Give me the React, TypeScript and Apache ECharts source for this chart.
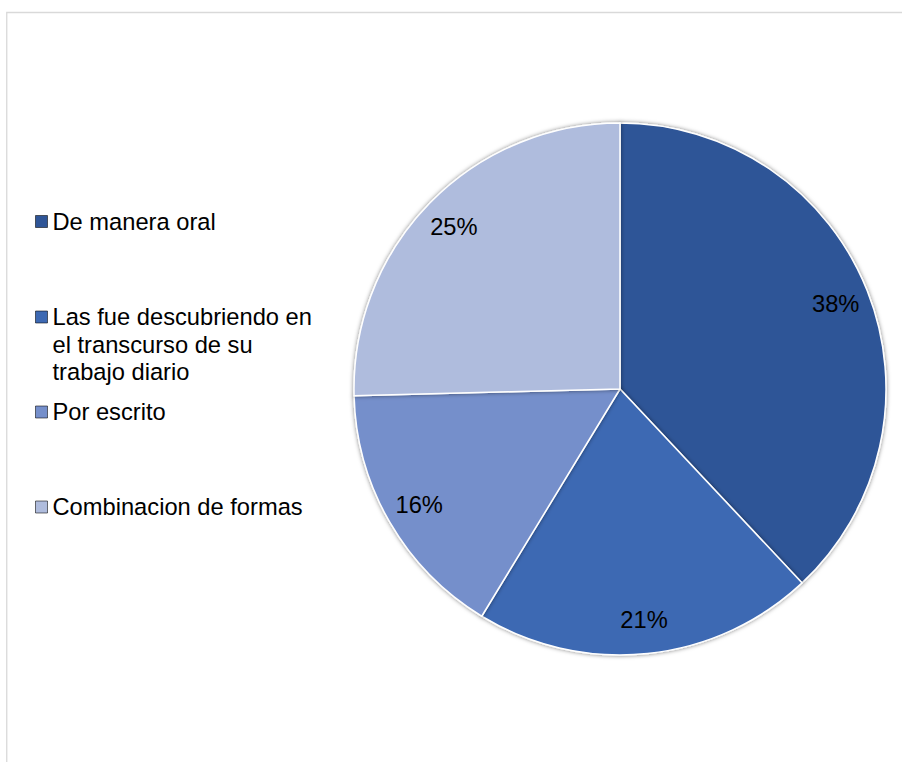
import { useEffect, useRef } from "react";
import * as echarts from "echarts";

const categories = [
  "De manera oral",
  "Las fue descubriendo en el transcurso de su trabajo diario",
  "Por escrito",
  "Combinacion de formas",
];
const values = [38.0, 20.7, 15.9, 25.4];
const colors = ["#2F5597", "#3D69B3", "#758FCB", "#AFBCDD"];
const legendLines = [
  "De manera oral",
  "Las fue descubriendo en\nel transcurso de su\ntrabajo diario",
  "Por escrito",
  "Combinacion de formas",
];

const FONT = "'Liberation Sans', Arial, Helvetica, sans-serif";
const FONT_SIZE = 23.7;
const LINE_H = 27.5;
const LEGEND_CENTER_Y = [221.5, 317, 412, 507];

export default function App() {
  const ref = useRef<HTMLDivElement>(null);

  useEffect(() => {
    if (!ref.current) return;
    const chart = echarts.init(ref.current, undefined, { renderer: "svg" });

    const pieData = categories.map((name, i) => ({
      name,
      value: values[i],
      itemStyle: { color: colors[i] },
    }));

    const legends = categories.map((name, i) => {
      const lines = legendLines[i].split("\n").length;
      // prepend empty lines so that the marker lines up with the first text line
      const prefix = "\n".repeat(lines - 1);
      const totalLines = lines + (lines - 1);
      const boxH = totalLines * LINE_H;
      return {
        data: [name],
        orient: "vertical",
        left: 35,
        top: LEGEND_CENTER_Y[i] - boxH / 2,
        padding: 0,
        itemWidth: 12,
        itemHeight: 12,
        icon: "rect",
        selectedMode: false,
        formatter: () => prefix + legendLines[i],
        itemStyle: { borderColor: "rgba(0,0,0,0.55)", borderWidth: 1 },
        textStyle: {
          fontFamily: FONT,
          fontSize: FONT_SIZE,
          lineHeight: LINE_H,
          color: "#000000",
        },
      };
    });

    chart.setOption({
      animation: false,
      backgroundColor: "#ffffff",
      graphic: [
        {
          type: "rect",
          silent: true,
          shape: { x: 6.75, y: 12.5, width: 1400, height: 1400 },
          style: { fill: "none", stroke: "#d9d9d9", lineWidth: 1.3 },
        },
      ],
      legend: legends,
      series: [
        {
          type: "pie",
          center: [620, 389],
          radius: 266,
          startAngle: 90,
          clockwise: true,
          silent: true,
          data: pieData,
          label: { show: false },
          labelLine: { show: false },
          itemStyle: {
            borderColor: "#ffffff",
            borderWidth: 1.5,
            shadowBlur: 4,
            shadowColor: "rgba(0,0,0,0.5)",
          },
          emphasis: { disabled: true },
        },
        {
          type: "pie",
          center: [620, 389],
          radius: [192, 266],
          startAngle: 90,
          clockwise: true,
          silent: true,
          percentPrecision: 0,
          data: pieData.map((d) => ({ name: d.name, value: d.value })),
          itemStyle: { color: "rgba(0,0,0,0)", borderWidth: 0 },
          label: {
            show: true,
            position: "inside",
            formatter: "{d}%",
            fontFamily: FONT,
            fontSize: FONT_SIZE,
            color: "#000000",
          },
          labelLine: { show: false },
          emphasis: { disabled: true },
        },
      ],
    });

    return () => chart.dispose();
  }, []);

  return (
    <div
      ref={ref}
      style={{ position: "fixed", left: 0, top: 0, width: 902, height: 762, background: "#fff" }}
    />
  );
}
